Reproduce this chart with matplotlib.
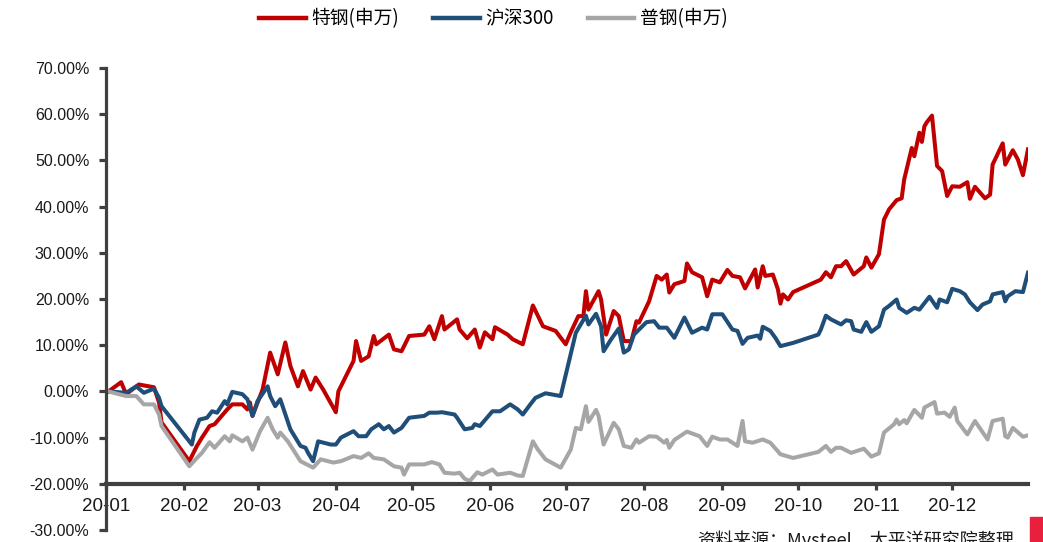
import numpy as np
import matplotlib
matplotlib.use("Agg")
import matplotlib.pyplot as plt
import matplotlib.dates as mdates
import matplotlib.ticker as ticker
from matplotlib.patches import Rectangle

plt.rcParams['font.family'] = ['Liberation Sans', 'Noto Sans CJK SC', 'DejaVu Sans']

# days counted from 2020-01-01, cumulative change in %
red_day = [1, 6, 8, 13, 19, 21, 22, 33, 36, 38,
           41, 43, 48, 50, 54, 56, 57, 58, 62, 65,
           68, 71, 73, 76, 78, 81, 83, 86, 91, 92,
           98, 99, 101, 104, 106, 107, 112, 114, 117, 120,
           126, 128, 130, 133, 134, 139, 140, 143, 146, 148,
           150, 153, 154, 159, 161, 165, 169, 173, 178, 182,
           184, 187, 189, 190, 191, 195, 196, 198, 201, 203,
           205, 208, 210, 211, 215, 218, 220, 222, 223, 225,
           229, 230, 232, 236, 238, 240, 243, 246, 248, 251,
           253, 257, 258, 260, 261, 264, 266, 267, 268, 270,
           272, 283, 285, 287, 289, 291, 293, 296, 300, 301,
           303, 306, 308, 310, 313, 315, 316, 319, 320, 322,
           323, 324, 325, 327, 329, 331, 333, 335, 338, 341,
           342, 344, 348, 350, 351, 355, 356, 359, 361, 363,
           365]
red_val = [0.0, 2.0, -0.6, 1.5, 0.9, -2.4, -6.7, -15.1, -11.8, -10.0,
           -7.5, -7.1, -3.9, -2.8, -2.8, -3.9, -2.4, -5.3, 0.4, 8.4,
           3.7, 10.6, 5.5, 1.1, 4.4, 0.4, 3.0, 0.4, -4.5, 0.0,
           6.6, 10.9, 6.6, 7.6, 12.0, 10.2, 12.3, 9.1, 8.7, 12.0,
           12.3, 14.1, 11.3, 16.3, 13.4, 15.6, 13.4, 11.5, 13.4, 9.5,
           12.8, 11.3, 13.9, 12.3, 11.3, 10.2, 18.6, 14.1, 13.1, 10.2,
           12.8, 16.3, 16.3, 21.7, 17.7, 21.7, 19.9, 12.3, 17.4, 16.3,
           10.9, 10.9, 15.2, 14.9, 19.5, 25.0, 24.2, 25.3, 21.4, 23.2,
           23.9, 27.7, 25.8, 24.7, 20.6, 24.2, 23.6, 26.3, 25.0, 24.7,
           22.3, 26.4, 22.5, 27.1, 25.0, 25.3, 22.1, 19.0, 21.0, 19.9,
           21.5, 24.2, 25.8, 24.7, 27.1, 27.1, 28.2, 25.3, 27.1, 29.0,
           26.8, 29.7, 37.2, 39.4, 41.4, 41.8, 45.9, 52.7, 50.9, 56.0,
           54.0, 57.4, 58.3, 59.7, 48.8, 47.7, 42.3, 44.4, 44.3, 45.3,
           41.7, 44.3, 41.8, 42.6, 49.1, 53.7, 49.1, 52.2, 50.2, 46.8,
           52.4]

blue_day = [1, 8, 12, 15, 19, 21, 22, 34, 35, 37,
            40, 42, 44, 47, 48, 50, 54, 56, 58, 60,
            64, 65, 67, 69, 73, 77, 79, 80, 82, 84,
            89, 91, 93, 98, 100, 103, 105, 108, 110, 112,
            114, 117, 120, 126, 128, 131, 133, 138, 139, 142,
            145, 146, 148, 153, 156, 160, 163, 165, 168, 170,
            174, 180, 186, 190, 191, 194, 196, 197, 200, 203,
            205, 207, 209, 214, 217, 219, 222, 225, 229, 232,
            236, 238, 240, 244, 248, 250, 252, 254, 258, 259,
            260, 263, 265, 267, 272, 282, 283, 285, 287, 291,
            293, 295, 296, 299, 301, 303, 306, 308, 310, 313,
            314, 317, 320, 322, 326, 329, 330, 333, 335, 338,
            340, 342, 345, 347, 350, 351, 355, 356, 357, 360,
            363, 365]
blue_val = [0.0, -0.3, 1.1, -0.3, 0.6, -1.4, -3.2, -11.5, -8.9, -6.1,
            -5.7, -4.3, -4.6, -2.1, -2.8, -0.1, -0.6, -1.7, -5.3, -2.1,
            1.1, -1.0, -3.2, -1.7, -8.2, -11.8, -12.2, -13.3, -15.1, -10.8,
            -11.5, -11.5, -10.0, -8.6, -9.7, -9.7, -8.2, -7.1, -8.2, -7.5,
            -8.9, -7.9, -5.7, -5.3, -4.6, -4.6, -4.5, -5.0, -5.7, -8.2,
            -7.9, -7.1, -7.5, -4.3, -4.3, -2.8, -3.9, -5.0, -2.8, -1.4,
            -0.4, -1.0, 12.7, 16.4, 14.5, 16.8, 14.1, 8.7, 11.3, 13.6,
            8.4, 9.1, 12.3, 15.0, 15.2, 13.8, 13.8, 11.6, 16.0, 12.7,
            13.8, 13.4, 16.7, 16.7, 13.4, 13.1, 10.3, 11.6, 12.1, 11.4,
            14.0, 13.1, 11.6, 9.8, 10.5, 12.3, 13.4, 16.4, 15.6, 14.5,
            15.4, 15.2, 13.4, 12.9, 15.0, 12.9, 14.1, 17.7, 18.5, 19.9,
            18.1, 17.0, 18.1, 17.7, 20.5, 18.1, 19.9, 19.3, 22.2, 21.7,
            21.0, 19.3, 17.6, 18.8, 19.5, 21.0, 21.5, 19.5, 20.6, 21.7,
            21.5, 25.7]

gray_day = [1, 5, 8, 12, 15, 19, 21, 22, 33, 36,
            38, 41, 43, 47, 49, 50, 54, 56, 58, 61,
            64, 66, 68, 69, 72, 77, 82, 85, 90, 93,
            98, 101, 104, 106, 110, 114, 117, 118, 120, 126,
            129, 132, 134, 138, 140, 142, 144, 147, 149, 153,
            155, 160, 163, 165, 169, 171, 174, 180, 184, 186,
            188, 190, 191, 194, 195, 197, 201, 203, 205, 208,
            210, 211, 215, 218, 221, 222, 223, 225, 230, 235,
            238, 240, 243, 246, 250, 252, 253, 256, 260, 263,
            267, 272, 282, 285, 287, 289, 291, 295, 300, 303,
            306, 308, 312, 313, 314, 316, 317, 320, 323, 324,
            328, 329, 332, 334, 336, 337, 341, 344, 349, 351,
            355, 356, 357, 359, 363, 365]
gray_val = [0.0, -0.6, -1.0, -1.0, -2.8, -2.8, -5.0, -7.5, -16.2, -14.4,
            -13.3, -11.0, -12.2, -9.7, -10.8, -9.5, -10.8, -10.0, -12.6, -8.6,
            -5.7, -8.2, -10.0, -8.9, -10.8, -15.1, -16.5, -14.7, -15.4, -15.1,
            -14.0, -14.4, -13.4, -14.4, -14.7, -16.2, -16.5, -18.0, -15.8, -15.8,
            -15.3, -15.8, -17.6, -17.8, -17.6, -18.9, -19.4, -17.5, -18.0, -16.9,
            -18.0, -17.6, -18.2, -18.3, -10.8, -12.6, -14.7, -16.5, -12.6, -7.9,
            -8.2, -3.2, -6.6, -4.0, -5.3, -11.5, -6.8, -8.2, -11.8, -12.2,
            -10.4, -11.1, -9.7, -9.8, -11.1, -10.5, -12.2, -10.5, -8.7, -9.7,
            -11.8, -9.8, -10.4, -10.4, -11.8, -6.4, -10.8, -11.1, -10.4, -11.1,
            -13.6, -14.4, -13.1, -11.8, -13.1, -12.2, -12.2, -13.3, -12.4, -14.1,
            -13.4, -8.9, -7.1, -6.1, -7.1, -6.2, -6.9, -4.0, -5.7, -3.5,
            -2.3, -4.8, -4.6, -5.5, -3.5, -6.4, -9.3, -6.4, -10.4, -6.4,
            -5.9, -9.7, -10.0, -7.9, -9.8, -9.5]

series = [
    ("特钢(申万)", red_day, red_val, "#C00000"),
    ("沪深300", blue_day, blue_val, "#1F4E79"),
    ("普钢(申万)", gray_day, gray_val, "#A6A6A6"),
]

base = np.datetime64("2020-01-01")
axis_col = "#404040"

fig = plt.figure(figsize=(10.43, 5.42), dpi=100)
ax = fig.add_axes([0.1016, 0.0221, 0.884, 0.8524])

for name, day, val, col in series:
    x = base + np.array(day).astype("timedelta64[D]")
    ax.plot(x, val, color=col, lw=2.9, label=name, solid_joinstyle="round")

ax.set_xlim(base, np.datetime64("2020-12-31"))
ax.set_ylim(-30, 70)
ax.yaxis.set_major_locator(ticker.MultipleLocator(10))
ax.yaxis.set_major_formatter(ticker.FuncFormatter(lambda v, p: f"{v:.2f}%"))
ax.xaxis.set_major_locator(mdates.MonthLocator())
ax.xaxis.set_major_formatter(mdates.DateFormatter("%y-%m"))

for s in ["top", "right"]:
    ax.spines[s].set_visible(False)
ax.spines["left"].set_color(axis_col)
ax.spines["left"].set_linewidth(2.3)
ax.spines["bottom"].set_color(axis_col)
ax.spines["bottom"].set_linewidth(3)
ax.spines["bottom"].set_position(("data", -20))

ax.tick_params(axis="y", direction="out", length=5, width=2.3, color=axis_col,
               labelsize=11.5, pad=7, labelcolor="#1a1a1a")
ax.tick_params(axis="x", direction="out", length=4, width=2.3, color=axis_col,
               labelsize=13.5, pad=6, labelcolor="#1a1a1a")

leg = ax.legend(loc="center", bbox_to_anchor=(0.473, 0.965), bbox_transform=fig.transFigure,
                ncol=3, frameon=False, handlelength=2.5, handletextpad=0.3,
                columnspacing=1.8, prop={"family": ["Noto Sans CJK SC"], "size": 13.5})
for line in leg.get_lines():
    line.set_linewidth(3.2)

fig.text(0.668, 0.0221, "资料来源：Mysteel，太平洋研究院整理", ha="left", va="top",
         fontsize=13, family=["Noto Sans CJK SC"], color="#1a1a1a")
fig.patches.append(Rectangle((1030 / 1043, 0), 13 / 1043, 25 / 542,
                             transform=fig.transFigure, color="#E9203D", zorder=5))

fig.savefig("out.png", dpi=100)
